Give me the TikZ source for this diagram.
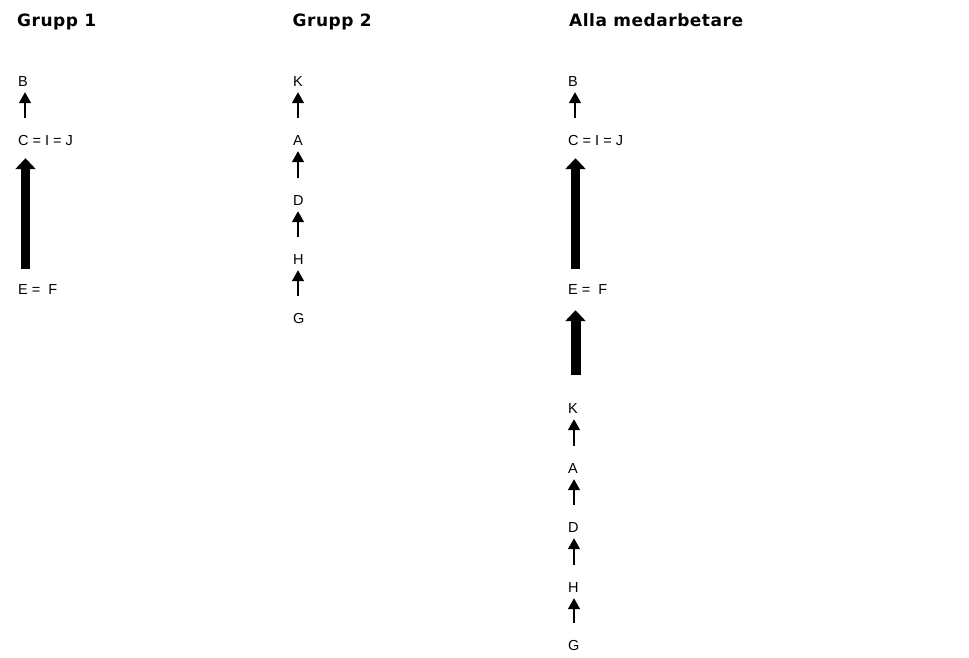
\documentclass[tikz,border=0pt]{standalone}
\usepackage{fontspec}
\setmainfont{Liberation Sans}
\newfontfamily\headfont[LetterSpace=3]{DejaVu Sans}
\usetikzlibrary{arrows.meta}
\begin{document}
\begin{tikzpicture}[x=1pt,y=-1pt,
  lbl/.style={anchor=west,inner sep=0pt,text height=10pt,text depth=0pt,font=\fontsize{14.5}{16}\selectfont},
  head/.style={anchor=west,inner sep=0pt,text height=12pt,text depth=0pt,font=\headfont\bfseries\fontsize{17}{19}\selectfont},
  thinarr/.style={line width=1.5pt,-{Triangle[width=12pt,length=11pt]},shorten <=17pt,shorten >=6pt},
  thickarr/.style={line width=9pt,-{Triangle[width=20pt,length=11pt]}}
]
\fill[white] (0,0) rectangle (969,657);
% headings
\node[head] (h1) at (17,20.8) {Grupp 1};
\node[head] (h2) at (292.5,20.8) {Grupp 2};
\node[head] (h3) at (569,20.8) {Alla medarbetare};
% group 1
\node[lbl] (g1B) at (18,81) {B};
\node[lbl] (g1C) at (18,140) {C = I = J};
\node[lbl] (g1E) at (18,289) {E =\ \ F};
\draw[thinarr] ([xshift=7pt]g1C.north west) -- ([xshift=7pt]g1B.south west);
\draw[thickarr,shorten <=15pt,shorten >=13pt] ([xshift=7.5pt]g1E.north west) -- ([xshift=7.5pt]g1C.south west);
% group 2
\node[lbl] (g2K) at (293,81) {K};
\node[lbl] (g2A) at (293,140) {A};
\node[lbl] (g2D) at (293,200) {D};
\node[lbl] (g2H) at (293,259) {H};
\node[lbl] (g2G) at (293,318) {G};
\draw[thinarr] ([xshift=5pt]g2A.north west) -- ([xshift=5pt]g2K.south west);
\draw[thinarr] ([xshift=5pt]g2D.north west) -- ([xshift=5pt]g2A.south west);
\draw[thinarr] ([xshift=5pt]g2H.north west) -- ([xshift=5pt]g2D.south west);
\draw[thinarr] ([xshift=5pt]g2G.north west) -- ([xshift=5pt]g2H.south west);
% group 3
\node[lbl] (g3B) at (568,81) {B};
\node[lbl] (g3C) at (568,140) {C = I = J};
\node[lbl] (g3E) at (568,289) {E =\ \ F};
\node[lbl] (g3K) at (568,408) {K};
\node[lbl] (g3A) at (568,468) {A};
\node[lbl] (g3D) at (568,527) {D};
\node[lbl] (g3H) at (568,587) {H};
\node[lbl] (g3G) at (568,645) {G};
\draw[thinarr] ([xshift=7pt]g3C.north west) -- ([xshift=7pt]g3B.south west);
\draw[thickarr,shorten <=15pt,shorten >=13pt] ([xshift=7.5pt]g3E.north west) -- ([xshift=7.5pt]g3C.south west);
\draw[thickarr,line width=10pt,shorten <=28pt,shorten >=16pt] ([xshift=7.5pt]g3K.north west) -- ([xshift=7.5pt]g3E.south west);
\draw[thinarr] ([xshift=6pt]g3A.north west) -- ([xshift=6pt]g3K.south west);
\draw[thinarr] ([xshift=6pt]g3D.north west) -- ([xshift=6pt]g3A.south west);
\draw[thinarr] ([xshift=6pt]g3H.north west) -- ([xshift=6pt]g3D.south west);
\draw[thinarr] ([xshift=6pt]g3G.north west) -- ([xshift=6pt]g3H.south west);
\end{tikzpicture}
\end{document}
